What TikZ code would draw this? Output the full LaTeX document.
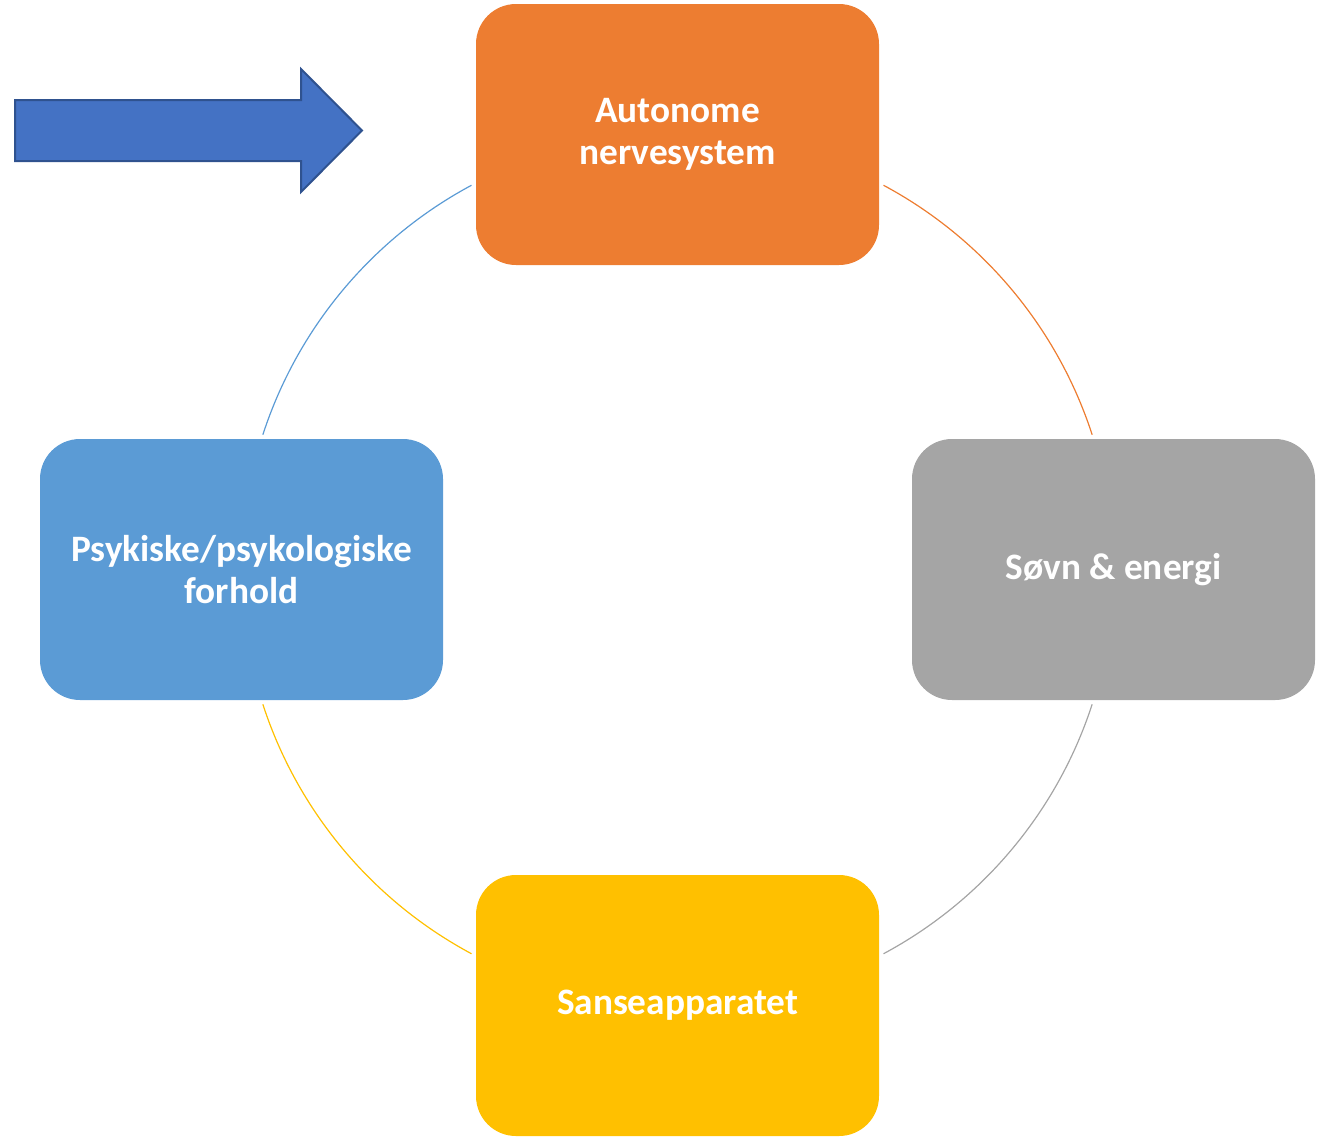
\documentclass[tikz,border=0pt]{standalone}
\usepackage{fontspec}
\setmainfont{Carlito}
\definecolor{corange}{HTML}{ED7D31}
\definecolor{cgray}{HTML}{A5A5A5}
\definecolor{cyellow}{HTML}{FFC000}
\definecolor{cblue}{HTML}{5B9BD5}
\definecolor{carrow}{HTML}{4472C4}
\definecolor{carrowdark}{HTML}{2F528F}
\begin{document}
\begin{tikzpicture}[x=1pt,y=-1pt,
  box/.style={rounded corners=40pt, minimum width=403pt, minimum height=261pt,
    inner sep=0pt, text=white, align=center,
    font=\fontsize{37.3}{42}\selectfont\bfseries},
  arcline/.style={line width=1.2pt}]
\useasboundingbox (0,0) rectangle (1320,1136);
\coordinate (c) at (677.5,569.5);
\node[box, fill=corange] (top) at (677.5,134.5) {Autonome\\nervesystem};
\node[box, fill=cgray] (right) at (1113.5,569.5) {Søvn \& energi};
\node[box, fill=cyellow] (bottom) at (677.5,1005.5) {Sanseapparatet};
\node[box, fill=cblue] (left) at (241.5,569.5) {Psykiske/psykologiske\\forhold};
% arcs (y axis flipped)
\draw[arcline, draw=cblue] ([shift={(-118.2:436)}]c) arc[start angle=-118.2, end angle=-162, radius=436];
\draw[arcline, draw=corange] ([shift={(-61.8:436)}]c) arc[start angle=-61.8, end angle=-18, radius=436];
\draw[arcline, draw=cgray] ([shift={(18:436)}]c) arc[start angle=18, end angle=61.8, radius=436];
\draw[arcline, draw=cyellow] ([shift={(118.2:436)}]c) arc[start angle=118.2, end angle=162, radius=436];
% block arrow
\draw[fill=carrow, draw=carrowdark, line width=2pt, line join=miter]
  (15,100) -- (301,100) -- (301,69) -- (362,130.5) -- (301,192) -- (301,161) -- (15,161) -- cycle;
\end{tikzpicture}
\end{document}
